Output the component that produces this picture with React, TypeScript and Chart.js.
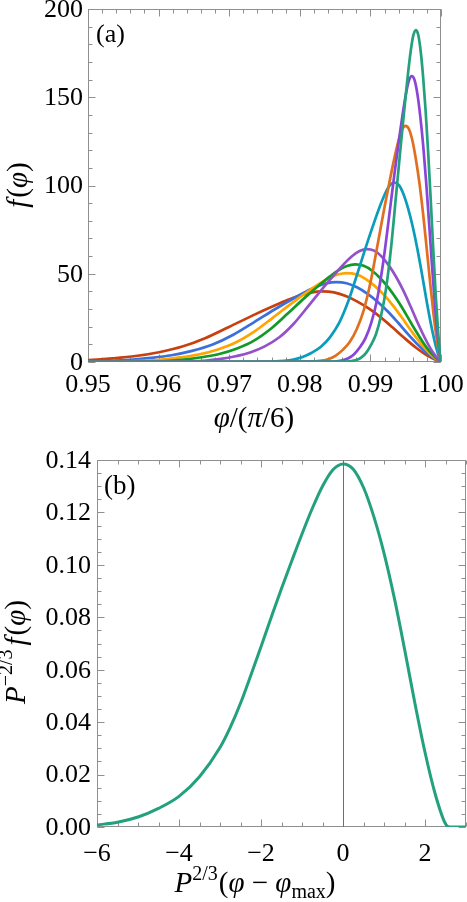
import React, { useEffect, useRef } from 'react';
import { Chart, registerables } from 'chart.js';

Chart.register(...registerables);

const SERIF = '"Liberation Serif", "DejaVu Serif", serif';
Chart.defaults.font.family = SERIF;

// ---------- Panel (a): f(phi) versus phi/(pi/6) ----------
const xTicksA = [0.95, 0.96, 0.97, 0.98, 0.99, 1.0];
const xMinorA = [0.95, 0.952, 0.954, 0.956, 0.958, 0.96, 0.962, 0.964, 0.966, 0.968, 0.97, 0.972, 0.974, 0.976, 0.978, 0.98, 0.982, 0.984, 0.986, 0.988, 0.99, 0.992, 0.994, 0.996, 0.998, 1.0];
const yTicksA = [0, 50, 100, 150, 200];
const yMinorA = [0, 10, 20, 30, 40, 50, 60, 70, 80, 90, 100, 110, 120, 130, 140, 150, 160, 170, 180, 190, 200];

const phiRed = [0.94683, 0.95013, 0.95344, 0.95675, 0.96005, 0.96336, 0.96667, 0.96997, 0.97328, 0.97659, 0.97824, 0.97989, 0.98155, 0.9832, 0.98485, 0.98651, 0.98816, 0.98981, 0.99147, 0.99312, 0.99478, 0.99643, 0.99808, 0.99974, 1.0];
const fRed = [0.52, 1.1, 2.05, 3.38, 5.54, 8.75, 13.63, 19.87, 26.28, 32.29, 35.09, 37.54, 39.34, 40, 39.42, 37.4, 34.22, 30.18, 25.27, 19.64, 13.72, 8.23, 3.61, 0.35, 0];

const phiBlue = [0.94431, 0.95015, 0.95307, 0.95598, 0.9589, 0.96182, 0.96474, 0.96766, 0.97058, 0.9735, 0.97642, 0.97934, 0.98079, 0.98225, 0.98371, 0.98517, 0.98663, 0.98809, 0.98955, 0.99101, 0.99247, 0.99393, 0.99539, 0.99685, 0.99831, 0.99977, 1.0];
const fBlue = [0.07, 0.26, 0.59, 1.24, 2.32, 3.83, 6.28, 9.91, 15.44, 22.5, 29.76, 36.57, 39.74, 42.52, 44.55, 45.3, 44.65, 42.36, 38.76, 34.18, 28.62, 22.24, 15.54, 9.32, 4.09, 0.39, 0];

const phiYellow = [0.94992, 0.95517, 0.9578, 0.96042, 0.96305, 0.96567, 0.96829, 0.97092, 0.97354, 0.97617, 0.97879, 0.98142, 0.98273, 0.98404, 0.98535, 0.98667, 0.98798, 0.98929, 0.9906, 0.99192, 0.99323, 0.99454, 0.99585, 0.99717, 0.99848, 0.99979, 1.0];
const fYellow = [0.07, 0.29, 0.66, 1.38, 2.59, 4.26, 6.99, 11.03, 17.18, 25.04, 33.11, 40.68, 44.22, 47.31, 49.56, 50.4, 49.67, 47.12, 43.12, 38.03, 31.84, 24.75, 17.29, 10.37, 4.55, 0.44, 0];

const phiGreen = [0.95, 0.95438, 0.95916, 0.96155, 0.96394, 0.96633, 0.96872, 0.97111, 0.97351, 0.9759, 0.97829, 0.98068, 0.98307, 0.98427, 0.98546, 0.98666, 0.98785, 0.98905, 0.99024, 0.99144, 0.99264, 0.99383, 0.99503, 0.99622, 0.99742, 0.99861, 0.99981, 1.0];
const fGreen = [0.03, 0.08, 0.32, 0.72, 1.52, 2.84, 4.67, 7.66, 12.1, 18.85, 27.47, 36.33, 44.64, 48.51, 51.9, 54.38, 55.3, 54.5, 51.71, 47.31, 41.72, 34.94, 27.15, 18.97, 11.38, 4.99, 0.48, 0];

const phiPurple = [0.95, 0.96056, 0.9647, 0.96676, 0.96883, 0.9709, 0.97296, 0.97503, 0.9771, 0.97917, 0.98123, 0.9833, 0.98537, 0.9864, 0.98743, 0.98847, 0.9895, 0.99053, 0.99157, 0.9926, 0.99363, 0.99467, 0.9957, 0.99673, 0.99777, 0.9988, 0.99983, 1.0];
const fPurple = [0, 0.09, 0.37, 0.83, 1.75, 3.28, 5.41, 8.87, 14.0, 21.81, 31.8, 42.05, 51.66, 56.15, 60.07, 62.94, 64, 63.08, 59.84, 54.76, 48.29, 40.44, 31.42, 21.95, 13.17, 5.78, 0.56, 0];

const phiCyan = [0.95, 0.97519, 0.97779, 0.97909, 0.98039, 0.98169, 0.98299, 0.98429, 0.98559, 0.98689, 0.98819, 0.98949, 0.99079, 0.99144, 0.99209, 0.99274, 0.99339, 0.99404, 0.99469, 0.99534, 0.99599, 0.99664, 0.9973, 0.99795, 0.9986, 0.99925, 0.9999, 1.0];
const fCyan = [0, 0.15, 0.59, 1.32, 2.79, 5.22, 8.59, 14.1, 22.25, 34.66, 50.52, 66.82, 82.09, 89.22, 95.46, 100.01, 101.7, 100.24, 95.09, 87.01, 76.73, 64.25, 49.93, 34.88, 20.93, 9.18, 0.88, 0];

const phiOrange = [0.95, 0.98114, 0.98312, 0.9841, 0.98509, 0.98608, 0.98707, 0.98806, 0.98905, 0.99004, 0.99102, 0.99201, 0.993, 0.9935, 0.99399, 0.99448, 0.99498, 0.99547, 0.99597, 0.99646, 0.99696, 0.99745, 0.99794, 0.99844, 0.99893, 0.99943, 0.99992, 1.0];
const fOrange = [0, 0.19, 0.77, 1.74, 3.67, 6.86, 11.31, 18.54, 29.28, 45.6, 66.47, 87.91, 108.0, 117.38, 125.58, 131.58, 133.8, 131.87, 125.1, 114.48, 100.95, 84.53, 65.7, 45.89, 27.54, 12.08, 1.16, 0];

const phiViolet = [0.95, 0.98442, 0.98606, 0.98687, 0.98769, 0.98851, 0.98932, 0.99014, 0.99095, 0.99177, 0.99259, 0.9934, 0.99422, 0.99463, 0.99504, 0.99544, 0.99585, 0.99626, 0.99667, 0.99708, 0.99749, 0.99789, 0.9983, 0.99871, 0.99912, 0.99953, 0.99993, 1.0];
const fViolet = [0, 0.23, 0.94, 2.11, 4.44, 8.31, 13.69, 22.45, 35.45, 55.21, 80.48, 106.43, 130.77, 142.12, 152.05, 159.31, 162, 159.67, 151.47, 138.61, 122.23, 102.35, 79.54, 55.57, 33.34, 14.63, 1.41, 0];

const phiTeal = [0.95, 0.98658, 0.98798, 0.98869, 0.98939, 0.99009, 0.9908, 0.9915, 0.9922, 0.99291, 0.99361, 0.99432, 0.99502, 0.99537, 0.99572, 0.99607, 0.99643, 0.99678, 0.99713, 0.99748, 0.99783, 0.99818, 0.99854, 0.99889, 0.99924, 0.99959, 0.99994, 1.0];
const fTeal = [0, 0.27, 1.09, 2.44, 5.15, 9.64, 15.89, 26.06, 41.13, 64.07, 93.4, 123.52, 151.75, 164.93, 176.46, 184.88, 188, 185.29, 175.78, 160.85, 141.85, 118.78, 92.31, 64.48, 38.69, 16.98, 1.64, 0];

const seriesNames = ['red', 'blue', 'yellow', 'green', 'purple', 'cyan', 'orange', 'violet', 'teal'];
const seriesColors = ['#c8400f', '#3a6fdc', '#ffa400', '#129a26', '#9452c8', '#0a9bbd', '#e0701f', '#8a45d8', '#23a07c'];
const seriesX = [phiRed, phiBlue, phiYellow, phiGreen, phiPurple, phiCyan, phiOrange, phiViolet, phiTeal];
const seriesY = [fRed, fBlue, fYellow, fGreen, fPurple, fCyan, fOrange, fViolet, fTeal];

// ---------- Panel (b): scaled curve ----------
const xTicksB = [-6, -4, -2, 0, 2];
const xMinorB = [-6, -5.5, -5, -4.5, -4, -3.5, -3, -2.5, -2, -1.5, -1, -0.5, 0, 0.5, 1, 1.5, 2, 2.5, 3];
const yTicksB = [0, 0.02, 0.04, 0.06, 0.08, 0.1, 0.12, 0.14];
const yMinorB = [0, 0.005, 0.01, 0.015, 0.02, 0.025, 0.03, 0.035, 0.04, 0.045, 0.05, 0.055, 0.06, 0.065, 0.07, 0.075, 0.08, 0.085, 0.09, 0.095, 0.1, 0.105, 0.11, 0.115, 0.12, 0.125, 0.13, 0.135, 0.14];

const scaledX = [-6, -5.5, -5, -4.5, -4, -3.5, -3, -2.75, -2.5, -2.25, -2, -1.75, -1.5, -1.25, -1, -0.75, -0.5, -0.25, 0, 0.25, 0.5, 0.75, 1, 1.25, 1.5, 1.75, 2, 2.25, 2.5, 2.6, 3];
const scaledY = [0.0008, 0.0018, 0.0038, 0.0071, 0.0117, 0.0192, 0.0303, 0.038, 0.0472, 0.0578, 0.0688, 0.08, 0.091, 0.1015, 0.1118, 0.1215, 0.13, 0.1362, 0.1385, 0.1365, 0.1295, 0.1185, 0.1045, 0.0875, 0.068, 0.0475, 0.0285, 0.0125, 0.0012, 0, 0];

type Seg = { t: string; it?: boolean; s?: number; dy?: number; gap?: number };

function fontFor(sg: Seg, size: number) {
  return `${sg.it ? 'italic ' : ''}${Math.round(size * (sg.s || 1))}px ${SERIF}`;
}

function drawRich(ctx: CanvasRenderingContext2D, segs: Seg[], size: number, cx: number, baseY: number) {
  let total = 0;
  const widths = segs.map((sg) => {
    ctx.font = fontFor(sg, size);
    const w = ctx.measureText(sg.t).width + (sg.gap || 0);
    total += w;
    return w;
  });
  let x = cx - total / 2;
  ctx.textAlign = 'left';
  ctx.textBaseline = 'alphabetic';
  segs.forEach((sg, i) => {
    ctx.font = fontFor(sg, size);
    ctx.fillText(sg.t, x, baseY + (sg.dy || 0) * size);
    x += widths[i];
  });
}

type Deco = {
  xMajor: number[]; xMinor: number[]; yMajor: number[]; yMinor: number[];
  panel: string; panelX: number; panelY: number; panelSize: number;
  xTitle: Seg[]; xTitleCx: number; xTitleBase: number;
  yTitle: Seg[]; yTitleCx: number; yTitleCy: number;
  titleSize: number;
};

function decoPlugin(d: Deco) {
  return {
    id: 'deco',
    beforeDatasetsDraw(chart: any) {
      const { ctx, chartArea: a } = chart;
      const xs = chart.scales.x;
      const ys = chart.scales.y;
      const L = Math.round(a.left) + 0.5;
      const R = Math.round(a.right) - 0.5;
      const T = Math.round(a.top) + 0.5;
      const B = Math.round(a.bottom) - 0.5;
      ctx.save();
      ctx.strokeStyle = '#8f8f8f';
      ctx.lineWidth = 1;
      ctx.strokeRect(L, T, R - L, B - T);
      const tickX = (vals: number[], len: number) => {
        ctx.beginPath();
        vals.forEach((v) => {
          const p = Math.round(xs.getPixelForValue(v)) + 0.5;
          ctx.moveTo(p, B); ctx.lineTo(p, B - len);
          ctx.moveTo(p, T); ctx.lineTo(p, T + len);
        });
        ctx.stroke();
      };
      const tickY = (vals: number[], len: number) => {
        ctx.beginPath();
        vals.forEach((v) => {
          const p = Math.round(ys.getPixelForValue(v)) + 0.5;
          ctx.moveTo(L, p); ctx.lineTo(L + len, p);
          ctx.moveTo(R, p); ctx.lineTo(R - len, p);
        });
        ctx.stroke();
      };
      tickX(d.xMinor, 4);
      tickX(d.xMajor, 7);
      tickY(d.yMinor, 4);
      tickY(d.yMajor, 7);
      ctx.restore();
    },
    afterDraw(chart: any) {
      const { ctx } = chart;
      ctx.save();
      ctx.fillStyle = '#000';
      ctx.font = `${d.panelSize}px ${SERIF}`;
      ctx.textAlign = 'left';
      ctx.textBaseline = 'alphabetic';
      ctx.fillText(d.panel, d.panelX, d.panelY);
      drawRich(ctx, d.xTitle, d.titleSize, d.xTitleCx, d.xTitleBase);
      ctx.translate(d.yTitleCx, d.yTitleCy);
      ctx.rotate(-Math.PI / 2);
      drawRich(ctx, d.yTitle, d.titleSize, 0, 0.23 * d.titleSize);
      ctx.restore();
    },
  };
}

const tickFont = { family: SERIF, size: 26 };

function configA(): any {
  const n = seriesNames.length;
  return {
    type: 'line',
    data: {
      datasets: seriesNames.map((name, i) => ({
        label: name,
        data: seriesX[i].map((x, j) => ({ x, y: seriesY[i][j] })),
        borderColor: seriesColors[i],
        backgroundColor: seriesColors[i],
        borderWidth: 2.7,
        pointRadius: 0,
        fill: false,
        cubicInterpolationMode: 'monotone',
        order: n - 1 - i,
      })),
    },
    options: {
      animation: false,
      responsive: false,
      layout: { padding: { left: 0, right: 26, top: 9, bottom: 0 } },
      plugins: { legend: { display: false }, tooltip: { enabled: false } },
      scales: {
        x: {
          type: 'linear', min: 0.95, max: 1.0,
          grid: { display: false, drawTicks: false }, border: { display: false },
          ticks: { font: tickFont, color: '#000', padding: 8, maxRotation: 0, autoSkip: false, callback: (v: number) => v.toFixed(2) },
          afterBuildTicks: (s: any) => { s.ticks = xTicksA.map((v) => ({ value: v })); },
          afterFit: (s: any) => { s.height = 78; s.paddingLeft = 0; s.paddingRight = 0; },
        },
        y: {
          type: 'linear', min: 0, max: 200,
          grid: { display: false, drawTicks: false }, border: { display: false },
          ticks: { font: tickFont, color: '#000', padding: 5, labelOffset: 1, autoSkip: false, callback: (v: number) => String(v) },
          afterBuildTicks: (s: any) => { s.ticks = yTicksA.map((v) => ({ value: v })); },
          afterFit: (s: any) => { s.width = 88; s.paddingTop = 0; s.paddingBottom = 0; },
        },
      },
    },
    plugins: [decoPlugin({
      xMajor: xTicksA, xMinor: xMinorA, yMajor: yTicksA, yMinor: yMinorA,
      panel: '(a)', panelX: 96, panelY: 42, panelSize: 26,
      xTitle: [{ t: 'φ', it: true }, { t: '/(' }, { t: 'π', it: true }, { t: '/6)' }],
      xTitleCx: 254, xTitleBase: 427,
      yTitle: [{ t: 'f', it: true, gap: 2 }, { t: '(' }, { t: 'φ', it: true }, { t: ')' }],
      yTitleCx: 20, yTitleCy: 185,
      titleSize: 29,
    })],
  };
}

function configB(): any {
  return {
    type: 'line',
    data: {
      datasets: [{
        label: 'scaled',
        data: scaledX.map((x, j) => ({ x, y: scaledY[j] })),
        borderColor: '#23a07c',
        backgroundColor: '#23a07c',
        borderWidth: 3,
        pointRadius: 0,
        fill: false,
        cubicInterpolationMode: 'monotone',
      }],
    },
    options: {
      animation: false,
      responsive: false,
      layout: { padding: { left: 0, right: 1, top: 20, bottom: 0 } },
      plugins: { legend: { display: false }, tooltip: { enabled: false } },
      scales: {
        x: {
          type: 'linear', min: -6, max: 3,
          grid: { display: true, drawTicks: false, z: 1, lineWidth: 1, color: (c: any) => (c.tick && c.tick.value === 0 ? '#6e6e6e' : 'rgba(0,0,0,0)') },
          border: { display: false },
          ticks: { font: tickFont, color: '#000', padding: 12, maxRotation: 0, autoSkip: false, callback: (v: number) => (v < 0 ? '\u2212' + Math.abs(v) : String(v)) },
          afterBuildTicks: (s: any) => { s.ticks = xTicksB.map((v) => ({ value: v })); },
          afterFit: (s: any) => { s.height = 75; s.paddingLeft = 0; s.paddingRight = 0; },
        },
        y: {
          type: 'linear', min: 0, max: 0.14,
          grid: { display: false, drawTicks: false }, border: { display: false },
          ticks: { font: tickFont, color: '#000', padding: 6, labelOffset: 1, autoSkip: false, callback: (v: number) => v.toFixed(2) },
          afterBuildTicks: (s: any) => { s.ticks = yTicksB.map((v) => ({ value: v })); },
          afterFit: (s: any) => { s.width = 97; s.paddingTop = 0; s.paddingBottom = 0; },
        },
      },
    },
    plugins: [decoPlugin({
      xMajor: xTicksB, xMinor: xMinorB, yMajor: yTicksB, yMinor: yMinorB,
      panel: '(b)', panelX: 104, panelY: 54, panelSize: 27,
      xTitle: [
        { t: 'P', it: true }, { t: '2/3', s: 0.7, dy: -0.42, gap: 1 }, { t: '(' }, { t: 'φ', it: true },
        { t: ' \u2212 ' }, { t: 'φ', it: true }, { t: 'max', s: 0.7, dy: 0.2 }, { t: ')' },
      ],
      xTitleCx: 255, xTitleBase: 452,
      yTitle: [
        { t: 'P', it: true }, { t: '\u22122/3', s: 0.7, dy: -0.42, gap: 4 }, { t: 'f', it: true, gap: 2 },
        { t: '(' }, { t: 'φ', it: true }, { t: ')' },
      ],
      yTitleCx: 18, yTitleCy: 212,
      titleSize: 29,
    })],
  };
}

export default function App() {
  const refA = useRef<HTMLCanvasElement>(null);
  const refB = useRef<HTMLCanvasElement>(null);
  useEffect(() => {
    const a = new Chart(refA.current as HTMLCanvasElement, configA());
    const b = new Chart(refB.current as HTMLCanvasElement, configB());
    return () => { a.destroy(); b.destroy(); };
  }, []);
  return (
    <div style={{ position: 'fixed', left: 0, top: 0, width: 467, height: 902, background: '#fff' }}>
      <div style={{ position: 'absolute', left: 0, top: 0, width: 467, height: 440 }}>
        <canvas ref={refA} width={467} height={440} style={{ display: 'block', width: 467, height: 440 }} />
      </div>
      <div style={{ position: 'absolute', left: 0, top: 440, width: 467, height: 462 }}>
        <canvas ref={refB} width={467} height={462} style={{ display: 'block', width: 467, height: 462 }} />
      </div>
    </div>
  );
}
